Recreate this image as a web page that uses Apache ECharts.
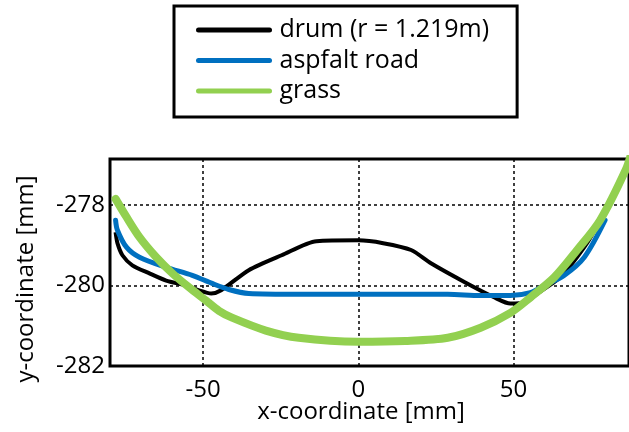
<!DOCTYPE html>
<html>
<head>
<meta charset="utf-8">
<script src="https://cdn.jsdelivr.net/npm/echarts@6/dist/echarts.min.js"></script>
<style>html,body{margin:0;padding:0;background:#fff}#c{width:629px;height:432px}</style>
</head>
<body>
<div id="c"></div>
<script>
const seriesNames = ['drum (r = 1.219m)', 'aspfalt road', 'grass'];
const xTicks = [-50, 0, 50];
const yTicks = [-282, -280, -278];

const drumX = [-78.2, -77.6, -76.0, -72.8, -67.3, -61.9, -55.4, -51.3, -47.4, -44.2, -35.3, -24.7, -13.5, 0, 8, 17, 23.4, 34.3, 43.9, 49, 53.5, 57.7, 65, 72.8, 77.9, 81.1];
const drumY = [-278.68, -278.95, -279.25, -279.5, -279.7, -279.88, -280.0, -280.12, -280.2, -280.12, -279.62, -279.25, -278.9, -278.88, -278.95, -279.12, -279.45, -279.92, -280.3, -280.45, -280.43, -280.2, -279.8, -279.05, -278.38, -277.85];

const roadX = [-78.2, -77.6, -74.7, -70.5, -61.9, -53.5, -47.1, -41.7, -35.3, -19.2, 0, 28.8, 39.4, 49, 55.4, 59.9, 66.3, 72.8, 79.5];
const roadY = [-278.38, -278.63, -279.05, -279.3, -279.55, -279.75, -279.95, -280.1, -280.2, -280.22, -280.22, -280.22, -280.25, -280.25, -280.18, -280.0, -279.75, -279.3, -278.38];

const grassX = [-78.2, -74.7, -70.5, -65.1, -59.9, -54.5, -49.0, -44.9, -40.7, -29.8, -19.2, 0, 15.1, 28.8, 39.4, 49, 55.4, 63.1, 70.5, 77.9, 86.2, 88];
const grassY = [-277.85, -278.3, -278.8, -279.3, -279.7, -280.05, -280.38, -280.63, -280.8, -281.12, -281.3, -281.4, -281.38, -281.3, -281.05, -280.68, -280.3, -279.8, -279.12, -278.38, -277.12, -276.7];

const zip = (xs, ys) => xs.map((x, i) => [x, ys[i]]);
const FONT = '"Open Sans"';

const chart = echarts.init(document.getElementById('c'), null, {renderer: 'canvas'});
chart.setOption({
  animation: false,
  backgroundColor: '#fff',
  grid: {left: 110, top: 159, right: -3, bottom: 66, show: true, borderColor: '#000', borderWidth: 3, backgroundColor: 'transparent'},
  xAxis: {
    type: 'value', min: -80, max: 87.2,
    axisLine: {show: false},
    axisTick: {show: false, customValues: xTicks},
    axisLabel: {customValues: xTicks, color: '#000', fontFamily: FONT, fontSize: 24, margin: 12},
    splitLine: {show: true, lineStyle: {color: '#000', width: 1.5, type: [3, 3]}}
  },
  yAxis: {
    type: 'value', min: -282, max: -276.86, interval: 2,
    axisLine: {show: false},
    axisTick: {show: false},
    axisLabel: {color: '#000', fontFamily: FONT, fontSize: 24, margin: 5, showMaxLabel: false},
    splitLine: {show: true, lineStyle: {color: '#000', width: 1.5, type: [3, 3]}}
  },
  legend: {
    orient: 'vertical', left: 174, top: 6,
    padding: [9, 28, 11, 22],
    borderColor: '#000', borderWidth: 3, backgroundColor: '#fff',
    itemWidth: 71, itemHeight: 6, itemGap: 0.5,
    itemStyle: {opacity: 0},
    lineStyle: {width: 5, cap: 'round'},
    textStyle: {color: '#000', fontFamily: FONT, fontSize: 25, lineHeight: 30, padding: [0, 0, 0, 5]},
    data: seriesNames
  },
  graphic: [
    {type: 'text', x: 26, y: 279, rotation: Math.PI / 2,
     style: {text: 'y-coordinate [mm]', fill: '#000', font: '24px ' + FONT, align: 'center', verticalAlign: 'middle'}},
    {type: 'text', x: 361, y: 412,
     style: {text: 'x-coordinate [mm]', fill: '#000', font: '24px ' + FONT, align: 'center', verticalAlign: 'middle'}}
  ],
  series: [
    {name: seriesNames[0], type: 'line', data: zip(drumX, drumY), showSymbol: false, symbol: 'none', smooth: 0.25, z: 2,
     lineStyle: {color: '#000', width: 4}, itemStyle: {color: '#000'}},
    {name: seriesNames[1], type: 'line', data: zip(roadX, roadY), showSymbol: false, symbol: 'none', smooth: 0.3, z: 3,
     lineStyle: {color: '#0070C0', width: 5, cap: 'round'}, itemStyle: {color: '#0070C0'}},
    {name: seriesNames[2], type: 'line', data: zip(grassX, grassY), showSymbol: false, symbol: 'none', smooth: 0.3, z: 4,
     lineStyle: {color: '#92D050', width: 8, cap: 'round'}, itemStyle: {color: '#92D050'}}
  ]
});
</script>
</body>
</html>
